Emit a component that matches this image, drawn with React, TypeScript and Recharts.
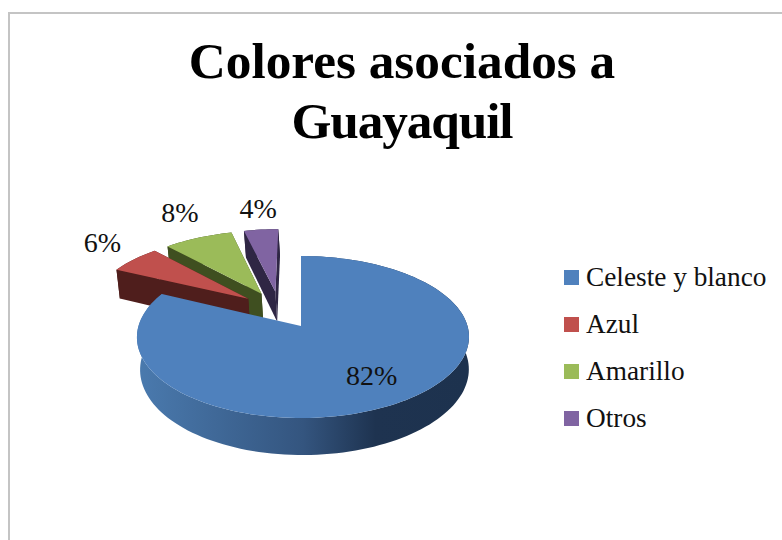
import React from 'react';
import { PieChart, Pie, Legend } from 'recharts';

const TITLE_LINES = ['Colores asociados a', 'Guayaquil'];
// drawn back to front so the big slice ends up on top; the legend flips this again
const categories = ['Otros', 'Amarillo', 'Azul', 'Celeste y blanco'];
const values = [4, 8, 6, 82];
const COLORS = ['#8064a2', '#9bbb59', '#c0504d', '#4f81bd'];
const WALLS = ['#2f2644', '#3f4f20', '#4f1e1c', 'url(#blueWall)'];
const LABEL_RADIUS = [1.4, 1.49, 1.38, 0.7];
const LABEL_TURN = [0.6, 2.6, 3, -2];

const chartData = categories.map((name, i) => ({ name, value: values[i], fill: COLORS[i] }));

// fake 3D: plan coordinates go through a small perspective before reaching the screen
const PERSPECTIVE = 0.1358;
const FLATTEN = 79.5 / 164.5;
const DEPTH = 32;
const EXPLODE = 0.25;
const RAD = Math.PI / 180;
const BIG_MID = (-205.2 + 90) / 2;

const project = (cx: number, cy: number, r: number, u: number, v: number, low = 0) => {
  const w = 1 + PERSPECTIVE * v;
  return [
    cx + ((r * u) / w) * (1 - 0.01 * low) + 1.5 * low,
    cy - (r * FLATTEN * v) / w + (DEPTH / w) * low,
  ];
};

const offsetOf = (midAngle: number) => [
  EXPLODE * (Math.cos(midAngle * RAD) - Math.cos(BIG_MID * RAD)),
  EXPLODE * (Math.sin(midAngle * RAD) - Math.sin(BIG_MID * RAD)),
];

const toPath = (pts: number[][]) =>
  'M' + pts.map((p) => `${p[0].toFixed(2)},${p[1].toFixed(2)}`).join('L') + 'Z';

const Slice3D = (props: any) => {
  const { cx, cy, outerRadius, startAngle, endAngle, fill, index } = props;
  const [ou, ov] = offsetOf((startAngle + endAngle) / 2);
  const steps = Math.max(2, Math.ceil(Math.abs(endAngle - startAngle) / 2));
  const arc = (low: number) => {
    const pts: number[][] = [];
    for (let i = 0; i <= steps; i++) {
      const a = (startAngle + ((endAngle - startAngle) * i) / steps) * RAD;
      const p = project(cx, cy, outerRadius, ou + Math.cos(a), ov + Math.sin(a), low);
      // the big slice sits a touch right of its own apex in the picture
      if (index === 3) p[0] += 2 * Math.cos(a) * Math.cos(a);
      pts.push(p);
    }
    return pts;
  };
  const top = arc(0);
  const low = arc(1);
  const apexTop = project(cx, cy, outerRadius, ou, ov, 0);
  const apexLow = project(cx, cy, outerRadius, ou, ov, 1);
  const wall = WALLS[index];
  return (
    <g>
      <defs>
        <linearGradient id="blueWall" gradientUnits="userSpaceOnUse" x1={138} y1={0} x2={468} y2={0}>
          <stop offset="0" stopColor="#4a7aae" />
          <stop offset="0.5" stopColor="#34557f" />
          <stop offset="0.72" stopColor="#1e3350" />
          <stop offset="1" stopColor="#1d324e" />
        </linearGradient>
      </defs>
      <path d={toPath([...top, ...[...low].reverse()])} fill={wall} />
      {index !== 3 && <path d={toPath([apexTop, top[0], low[0], apexLow])} fill={wall} />}
      {index !== 3 && <path d={toPath([apexTop, top[steps], low[steps], apexLow])} fill={wall} />}
      <path d={toPath([apexTop, ...top])} fill={fill} />
    </g>
  );
};

const renderLabel = (props: any) => {
  const { cx, cy, outerRadius, midAngle, index, value } = props;
  const [ou, ov] = offsetOf(midAngle);
  const k = LABEL_RADIUS[index];
  const a = (midAngle - LABEL_TURN[index]) * RAD;
  const [x, y] = project(cx, cy, outerRadius, ou + k * Math.cos(a), ov + k * Math.sin(a));
  return (
    <text x={x} y={y} fill="#111" fontSize={28} fontFamily="'Liberation Serif', serif" textAnchor="middle" dominantBaseline="central">
      {value}%
    </text>
  );
};

const renderLegend = (props: any) => {
  const items = [...(props.payload || [])].reverse();
  return (
    <div>
      {items.map((it: any) => (
        <div key={it.value} style={{ display: 'flex', alignItems: 'center', height: 47 }}>
          <span style={{ width: 15, height: 15, background: it.color, marginRight: 7, flexShrink: 0 }} />
          <span style={{ fontFamily: "'Liberation Serif', serif", fontSize: 27.3, color: '#111', whiteSpace: 'nowrap' }}>{it.value}</span>
        </div>
      ))}
    </div>
  );
};

export default function App() {
  return (
    <div style={{ position: 'absolute', left: 0, top: 0, width: 782, height: 540, overflow: 'hidden', background: '#fff' }}>
      <div style={{ position: 'absolute', left: 8, top: 12, width: 900, height: 700, border: '2px solid #c4c4c4' }} />
      <div
        style={{
          position: 'absolute',
          left: 0,
          top: 31,
          width: 804,
          textAlign: 'center',
          fontFamily: "'Liberation Serif', serif",
          fontWeight: 700,
          fontSize: 51.3,
          lineHeight: '60px',
          color: '#000',
        }}
      >
        {TITLE_LINES.map((t, i) => (
          <div key={t} style={{ letterSpacing: i === 1 ? -1.1 : 0 }}>{t}</div>
        ))}
      </div>
      <PieChart width={782} height={540} margin={{ top: 0, right: 0, bottom: 0, left: 0 }} style={{ position: 'absolute', left: 0, top: 0 }}>
        <Pie
          data={chartData}
          dataKey="value"
          nameKey="name"
          cx={301}
          cy={326}
          outerRadius={164.5}
          startAngle={-270}
          endAngle={90}
          stroke="none"
          legendType="square"
          shape={Slice3D}
          label={renderLabel}
          labelLine={false}
          isAnimationActive={false}
        />
        <Legend
          layout="vertical"
          align="center"
          verticalAlign="middle"
          itemSorter={null}
          content={renderLegend}
          wrapperStyle={{ left: 564, top: 254, width: 218 }}
        />
      </PieChart>
    </div>
  );
}
